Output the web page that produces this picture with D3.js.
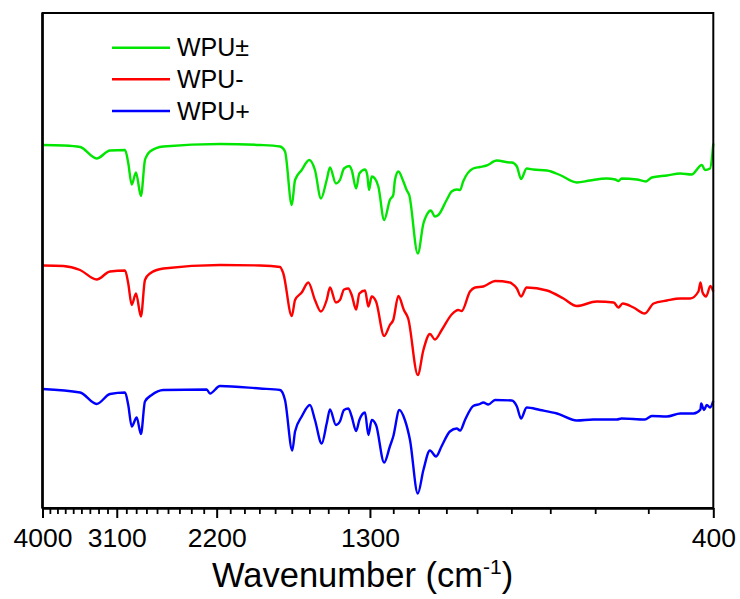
<!DOCTYPE html>
<html>
<head>
<meta charset="utf-8">
<script src="https://cdn.jsdelivr.net/npm/d3@7"></script>
<style>
  html, body { margin: 0; padding: 0; background: #fff; }
  svg { display: block; font-family: "Liberation Sans", Arial, sans-serif; }
</style>
</head>
<body>
<svg id="chart" width="740" height="599"></svg>
<script>
// ---- Data ----
const seriesNames = ["WPU\u00B1", "WPU-", "WPU+"];
const seriesColors = ["#00e600", "#ff0000", "#0000ff"];

// [wavenumber (cm-1), transmittance (a.u., offset)]
const greenSeries = [[4000,71.0],[3724,70.9],[3516,70.6],[3322,68.3],[3173,69.9],[3013,70.0],[2980,67.4],[2945,63.1],[2902,65.5],[2853,60.8],[2814,68.0],[2800,68.7],[2766,69.7],[2642,70.7],[2175,71.2],[1896,71.0],[1770,70.7],[1740,69.7],[1700,59.0],[1681,64.0],[1643,66.0],[1601,68.0],[1570,66.0],[1538,60.3],[1508,64.0],[1491,66.5],[1461,63.3],[1441,64.0],[1421,66.3],[1395,66.8],[1384,66.0],[1363,62.3],[1348,65.3],[1322,66.1],[1312,65.0],[1304,62.0],[1292,64.7],[1278,64.3],[1263,62.7],[1238,56.0],[1214,60.0],[1200,61.0],[1193,64.0],[1179,65.7],[1159,63.7],[1146,62.0],[1136,61.0],[1103,49.3],[1082,55.3],[1070,57.0],[1055,57.9],[1040,56.7],[1028,57.0],[999,60.0],[982,61.7],[965,62.1],[954,62.0],[944,63.7],[912,66.3],[891,66.6],[871,66.9],[841,67.9],[804,67.5],[799,67.5],[785,66.7],[774,64.2],[759,66.3],[742,66.1],[708,65.9],[677,65.0],[639,63.5],[611,63.9],[577,64.3],[560,64.1],[554,63.8],[548,64.3],[520,64.1],[504,63.7],[494,64.5],[469,64.9],[448,65.3],[431,65.1],[416,67.0],[411.6,66.0],[404.5,66.3],[400,71.3]];

const redSeries = [[4000,46.9],[3724,46.8],[3516,46.0],[3322,44.1],[3173,45.7],[3013,45.9],[2980,43.3],[2945,39.0],[2902,41.3],[2853,36.7],[2814,44.0],[2766,45.3],[2642,46.3],[2175,47.0],[1896,46.9],[1770,46.6],[1750,45.3],[1700,36.8],[1681,40.0],[1643,41.5],[1606,43.5],[1570,40.0],[1538,37.7],[1508,40.0],[1491,42.5],[1461,39.5],[1441,40.0],[1421,42.1],[1400,42.3],[1384,41.0],[1363,38.1],[1348,41.3],[1322,41.9],[1307,38.7],[1292,40.7],[1273,39.7],[1238,32.8],[1214,35.0],[1200,36.0],[1179,40.8],[1157,38.0],[1140,36.3],[1103,25.0],[1082,30.0],[1058,33.2],[1040,32.1],[1016,34.0],[982,37.1],[960,38.0],[949,37.8],[922,41.7],[906,42.5],[881,42.7],[871,43.0],[846,43.8],[804,43.5],[799,43.3],[785,42.3],[774,40.7],[759,42.5],[708,41.9],[669,40.3],[639,38.8],[597,39.7],[563,39.5],[554,38.5],[546,39.3],[526,38.5],[506,37.3],[491,39.3],[469,39.9],[448,40.3],[433,40.3],[421,41.7],[418,43.5],[415,41.5],[410,40.7],[404,42.8],[400,41.7]];

const blueSeries = [[4000,22.2],[3516,21.5],[3322,19.2],[3173,21.2],[3013,21.5],[2980,19.0],[2945,14.7],[2895,16.5],[2853,13.2],[2814,19.7],[2750,21.0],[2642,22.0],[2277,22.1],[2251,21.3],[2175,22.8],[1896,22.3],[1770,22.0],[1740,20.0],[1697,9.9],[1681,13.7],[1643,16.7],[1597,19.0],[1570,16.0],[1534,11.3],[1508,15.3],[1491,18.1],[1461,15.0],[1441,15.7],[1421,18.0],[1400,18.3],[1384,16.7],[1363,13.8],[1348,16.0],[1322,17.5],[1307,13.0],[1292,16.0],[1273,15.0],[1238,7.5],[1214,10.7],[1200,12.7],[1175,18.0],[1153,16.0],[1133,12.0],[1103,1.3],[1082,6.0],[1058,9.9],[1036,8.7],[1016,10.8],[988,13.7],[965,14.3],[954,13.9],[938,16.0],[912,18.8],[891,19.2],[881,19.5],[866,19.1],[846,20.0],[799,19.9],[785,18.7],[774,16.3],[759,18.5],[725,18.0],[684,17.3],[639,15.9],[604,16.1],[557,16.1],[548,16.3],[506,16.1],[494,16.8],[469,16.7],[448,17.3],[428,17.3],[418,18.1],[417,19.3],[413,18.0],[409,19.0],[404.5,18.5],[400,19.8]];

const majorTicks = [4000, 3100, 2200, 1300, 400];
const minorTicks = d3.range(500, 4000, 100).filter(v => !majorTicks.includes(v));
const xDomain = [4000, 400];
const yDomain = [-1.6, 97.4];

// ---- Layout ----
const plotLeft = 42.5, plotRight = 713.3, plotTop = 13, plotBottom = 508;
const svg = d3.select("#chart");

const x = d3.scaleLog().domain(xDomain).range([plotLeft, plotRight]);
const y = d3.scaleLinear().domain(yDomain).range([plotBottom, plotTop]);

// Curves
const line = d3.line()
  .x(d => x(d[0]))
  .y(d => y(d[1]))
  .curve(d3.curveMonotoneX);

const allSeries = [greenSeries, redSeries, blueSeries];
allSeries.forEach((s, i) => {
  svg.append("path")
    .datum(s)
    .attr("fill", "none")
    .attr("stroke", seriesColors[i])
    .attr("stroke-width", 2.4)
    .attr("stroke-linejoin", "round")
    .attr("d", line);
});

// Frame (top & right borders)
svg.append("rect")
  .attr("x", plotLeft).attr("y", plotTop)
  .attr("width", plotRight - plotLeft).attr("height", plotBottom - plotTop)
  .attr("fill", "none").attr("stroke", "#000").attr("stroke-width", 2);

// Minor ticks
const minorAxis = d3.axisBottom(x).tickValues(minorTicks).tickSize(6).tickFormat("").tickSizeOuter(0);
svg.append("g").attr("transform", `translate(0,${plotBottom})`).call(minorAxis)
  .call(g => g.select(".domain").remove())
  .call(g => g.selectAll(".tick line").attr("stroke-width", 1.8));

// Major ticks
const majorAxis = d3.axisBottom(x).tickValues(majorTicks).tickSize(10).tickSizeOuter(0)
  .tickFormat(d3.format("d"));
svg.append("g").attr("transform", `translate(0,${plotBottom})`).call(majorAxis)
  .call(g => g.select(".domain").attr("stroke-width", 2.5))
  .call(g => g.selectAll(".tick line").attr("stroke-width", 2))
  .call(g => g.selectAll(".tick text")
    .attr("y", 0).attr("dy", 0)
    .attr("transform", "translate(0,38.5)")
    .attr("font-size", 26.5)
    .attr("font-family", "Liberation Sans, Arial, sans-serif")
    .attr("fill", "#000"));

// Left axis line
svg.append("line")
  .attr("x1", plotLeft).attr("x2", plotLeft).attr("y1", plotTop).attr("y2", plotBottom)
  .attr("stroke", "#000").attr("stroke-width", 2.5);

// Axis title
const title = svg.append("text")
  .attr("x", 212).attr("y", 587)
  .attr("font-size", 34.5)
  .attr("fill", "#000");
title.append("tspan").text("Wavenumber (cm");
title.append("tspan").text("-1").attr("font-size", 21).attr("dy", -13.5);
title.append("tspan").text(")").attr("dy", 13.5);

// Legend
const legendY = [47.7, 79.3, 111];
seriesNames.forEach((name, i) => {
  svg.append("line")
    .attr("x1", 112).attr("x2", 170)
    .attr("y1", legendY[i]).attr("y2", legendY[i])
    .attr("stroke", seriesColors[i]).attr("stroke-width", 2.4);
  svg.append("text")
    .attr("x", 177).attr("y", legendY[i] + 8.7)
    .attr("font-size", 25)
    .attr("fill", "#000")
    .text(name);
});
</script>
</body>
</html>
